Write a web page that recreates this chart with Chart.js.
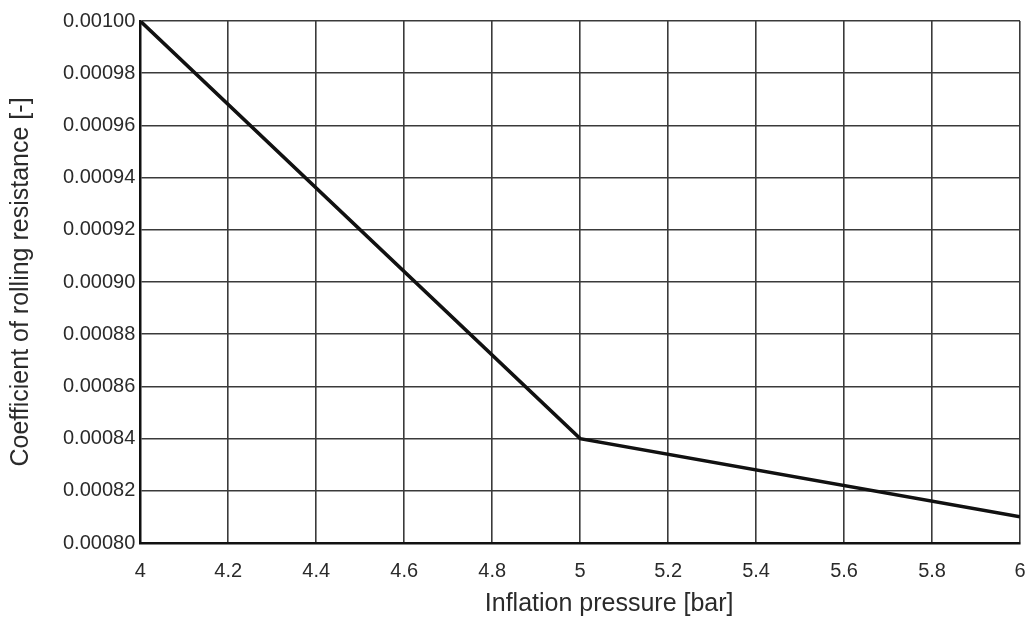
<!DOCTYPE html>
<html>
<head>
<meta charset="utf-8">
<script src="https://cdn.jsdelivr.net/npm/chart.js@4.4.0/dist/chart.umd.min.js"></script>
<style>
  html, body { margin: 0; padding: 0; background: #fff; }
  #wrap { width: 1032px; height: 617px; }
</style>
</head>
<body>
<div id="wrap"><canvas id="chart"></canvas></div>
<script>
// Rolling resistance vs tyre inflation pressure
const pressure = [4, 5, 6];
const rollingCoef = [0.00100, 0.000840, 0.000810];

const xMin = 4, xMax = 6, xStep = 0.2;
const yMin = 0.00080, yMax = 0.00100, yStep = 0.00002;
const xTitle = 'Inflation pressure [bar]';
const yTitle = 'Coefficient of rolling resistance [-]';

Chart.defaults.font.family = "'Liberation Sans', Arial, sans-serif";
Chart.defaults.color = '#2a2a2a';

// x axis title sits a bit right of the plot centre, so draw it by hand
const xTitlePlugin = {
    id: 'xTitle',
    afterDraw(chart) {
        const { ctx, chartArea } = chart;
        ctx.save();
        ctx.font = "25px 'Liberation Sans', Arial, sans-serif";
        ctx.fillStyle = '#2a2a2a';
        ctx.textAlign = 'center';
        ctx.textBaseline = 'middle';
        ctx.fillText(xTitle, (chartArea.left + chartArea.right) / 2 + 29, chartArea.bottom + 61);
        ctx.restore();
    }
};

const ctx = document.getElementById('chart').getContext('2d');
new Chart(ctx, {
    type: 'line',
    data: {
        datasets: [{
            data: pressure.map((p, i) => ({ x: p, y: rollingCoef[i] })),
            borderColor: '#111',
            borderWidth: 3.5,
            pointRadius: 0,
            tension: 0
        }]
    },
    options: {
        responsive: true,
        maintainAspectRatio: false,
        animation: false,
        layout: { padding: { left: 0, right: 12, top: 21, bottom: 18 } },
        plugins: {
            legend: { display: false },
            tooltip: { enabled: false }
        },
        scales: {
            x: {
                type: 'linear',
                min: xMin,
                max: xMax,
                border: { color: '#111', width: 2.5 },
                grid: { color: '#3a3a3a', lineWidth: 1.6, drawTicks: false },
                ticks: {
                    stepSize: xStep,
                    padding: 16,
                    font: { size: 20 },
                    callback: v => String(Number(v.toFixed(1)))
                },
                // the last tick label may hang over the right edge
                afterFit: scale => { scale.paddingRight = 0; }
            },
            y: {
                min: yMin,
                max: yMax,
                border: { color: '#111', width: 2.5 },
                grid: { color: '#3a3a3a', lineWidth: 1.6, drawTicks: false },
                ticks: {
                    stepSize: yStep,
                    padding: 5,
                    font: { size: 20 },
                    callback: v => v.toFixed(5)
                },
                title: {
                    display: true,
                    text: yTitle,
                    font: { size: 25, lineHeight: 1 },
                    padding: { top: 9, bottom: 24 }
                }
            }
        }
    },
    plugins: [xTitlePlugin]
});
</script>
</body>
</html>
